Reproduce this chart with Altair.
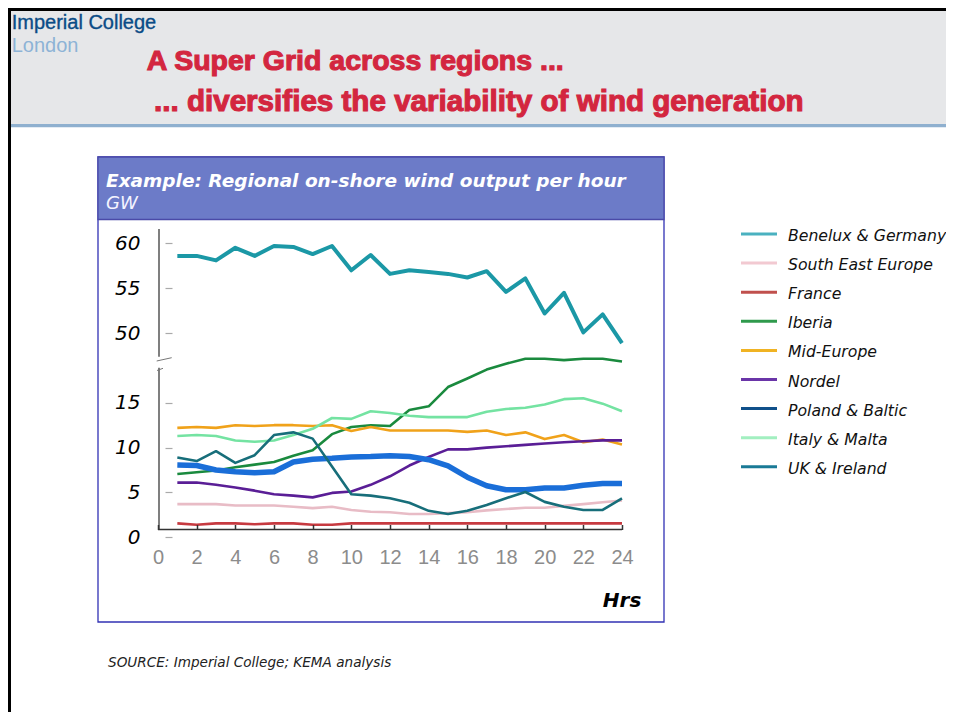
import altair as alt
import pandas as pd

# ---------------- data ----------------
HOURS = list(range(1, 25))
SERIES = ["Benelux & Germany", "South East Europe", "France", "Iberia", "Mid-Europe",
          "Nordel", "Poland & Baltic", "Italy & Malta", "UK & Ireland"]

benelux = [58.6, 58.6, 58.1, 59.5, 58.6, 59.7, 59.6, 58.8, 59.7, 57.0, 58.7, 56.6,
           57.0, 56.8, 56.6, 56.2, 56.9, 54.6, 56.1, 52.2, 54.5, 50.1, 52.1, 48.9]
south_east = [3.7, 3.7, 3.7, 3.55, 3.55, 3.55, 3.4, 3.25, 3.4, 3.05, 2.85, 2.8,
              2.6, 2.6, 2.7, 2.8, 3.0, 3.15, 3.3, 3.3, 3.5, 3.7, 3.9, 4.1]
france = [1.55, 1.4, 1.55, 1.55, 1.45, 1.55, 1.55, 1.4, 1.4, 1.55, 1.55, 1.55,
          1.55, 1.55, 1.55, 1.55, 1.55, 1.55, 1.55, 1.55, 1.55, 1.55, 1.55, 1.55]
iberia = [7.05, 7.25, 7.45, 7.8, 8.1, 8.4, 9.1, 9.7, 11.5, 12.3, 12.5, 12.4,
          14.2, 14.6, 16.75, 17.7, 18.7, 19.35, 19.9, 19.9, 19.75, 19.9, 19.9, 19.6]
mid_europe = [12.2, 12.3, 12.2, 12.5, 12.4, 12.5, 12.5, 12.4, 12.5, 11.85, 12.3, 11.9,
              11.9, 11.9, 11.9, 11.75, 11.9, 11.4, 11.7, 10.95, 11.4, 10.6, 10.9, 10.35]
nordel = [6.1, 6.1, 5.85, 5.55, 5.2, 4.8, 4.65, 4.45, 4.95, 5.1, 5.85, 6.8,
          8.0, 8.95, 9.8, 9.8, 10.0, 10.15, 10.3, 10.45, 10.6, 10.7, 10.8, 10.8]
poland = [8.05, 8.0, 7.5, 7.3, 7.2, 7.3, 8.4, 8.7, 8.8, 8.95, 9.0, 9.1,
          9.0, 8.65, 7.95, 6.7, 5.75, 5.3, 5.3, 5.5, 5.5, 5.8, 6.0, 6.0]
italy = [11.3, 11.4, 11.3, 10.8, 10.65, 10.8, 11.4, 12.1, 13.3, 13.2, 14.05, 13.85,
         13.55, 13.4, 13.4, 13.4, 14.0, 14.3, 14.45, 14.8, 15.4, 15.5, 14.9, 14.05]
uk = [8.9, 8.5, 9.6, 8.3, 9.15, 11.4, 11.7, 11.0, 7.9, 4.8, 4.65, 4.35,
      3.85, 2.95, 2.6, 2.95, 3.6, 4.35, 5.05, 3.95, 3.4, 3.05, 3.05, 4.35]

VALUES = {
    "Benelux & Germany": benelux, "South East Europe": south_east, "France": france,
    "Iberia": iberia, "Mid-Europe": mid_europe, "Nordel": nordel,
    "Poland & Baltic": poland, "Italy & Malta": italy, "UK & Ireland": uk,
}

LINE_COLORS = ["#1b98a6", "#e8bcc6", "#c63a40", "#1a8a3e", "#f0a21a",
               "#5a1e96", "#1a6ed8", "#74e3a2", "#176e7a"]
LEGEND_COLORS = ["#4ab1c0", "#f2c9d1", "#c0504d", "#2f9a4c", "#f0b323",
                 "#6a35a8", "#10508a", "#a2efc0", "#1a7a96"]
THIN_GROUP = ["South East Europe", "France", "Mid-Europe", "Italy & Malta", "Iberia", "Nordel"]

Y_TICKS = [0, 5, 10, 15, 50, 55, 60]
X_TICKS = list(range(0, 25, 2))

rows = []
for name in SERIES:
    for h, v in zip(HOURS, VALUES[name]):
        rows.append({"hour": h, "gw": v, "series": name})
df = pd.DataFrame(rows)

legend_df = pd.DataFrame({"series": SERIES})
axis_seg_df = pd.DataFrame({"y": [61.6, 18.9], "y2": [47.4, 0.87]})
one = pd.DataFrame({"a": [0]})

W, H = 938, 704

# broken (piecewise) y scale : lower 0-20, upper 47-62
x_scale = alt.Scale(domain=[0, 24], range=[150, 614], nice=False, zero=False)
y_scale = alt.Scale(domain=[0, 20.05, 47.4, 61.6], range=[529.3, 349.45, 348.7, 220.9],
                    nice=False, zero=False)
color_scale = alt.Scale(domain=SERIES, range=LINE_COLORS)


def rect(x, x2, y, y2, **kw):
    return alt.Chart(one).mark_rect(**kw).encode(
        x=alt.value(x), x2=alt.value(x2), y=alt.value(y), y2=alt.value(y2))


def rule(x, x2, y, y2, **kw):
    return alt.Chart(one).mark_rule(**kw).encode(
        x=alt.value(x), x2=alt.value(x2), y=alt.value(y), y2=alt.value(y2))


def text(t, x, y, **kw):
    return alt.Chart(one).mark_text(text=t, align="left", baseline="alphabetic", **kw).encode(
        x=alt.value(x), y=alt.value(y))


# ---------------- slide decoration ----------------
band = rect(0, W, 3, 116, color="#e6e7e9")
band_line = rect(0, W, 116, 119.3, color="#8fb0cf")
border_left = rect(0, 3, 0, H, color="#000000")
border_top = rect(0, W, 0, 3, color="#000000")

logo1 = text("Imperial College", 3.7, 21.3, font="Liberation Sans", fontSize=20,
             color="#0a4c86", stroke="#0a4c86", strokeWidth=0.35)
logo2 = text("London", 3.7, 43.7, font="Liberation Sans", fontSize=20, color="#8db3d6")

TITLE_FONT = "Liberation Sans"
title1 = text("A Super Grid across regions ...", 138.7, 62, font=TITLE_FONT,
              fontSize=28.5, fontWeight="bold", color="#d3263f",
              stroke="#d3263f", strokeWidth=1.1)
title2 = text("... diversifies the variability of wind generation", 146, 102.5,
              font=TITLE_FONT, fontSize=29.6, fontWeight="bold", color="#d3263f",
              stroke="#d3263f", strokeWidth=1.1)

box = rect(90, 656, 149, 614, fill="#ffffff", stroke="#3232b4", strokeWidth=1.3)
box_head = rect(90, 656, 149, 211.5, fill="#6c7bc8", stroke="#4a4aa8", strokeWidth=1.3)
head1 = text("Example: Regional on-shore wind output per hour", 98, 178.5,
             font="DejaVu Sans", fontSize=18.5, fontWeight="bold", fontStyle="italic",
             color="#ffffff")
head2 = text("GW", 98, 201, font="DejaVu Sans", fontSize=18, fontStyle="italic",
             color="#f4f4ff")

hrs = text("Hrs", 594.8, 599, font="DejaVu Sans", fontSize=20, fontWeight="bold",
           fontStyle="italic", color="#000000")
source = text("SOURCE: Imperial College; KEMA analysis", 100, 659, font="DejaVu Sans",
              fontSize=13.6, fontStyle="italic", color="#222222")

# ---------------- axes ----------------
y_axis_line = alt.Chart(axis_seg_df).mark_rule(color="#555555", strokeWidth=1.5).encode(
    x=alt.value(151),
    y=alt.Y("y:Q", scale=y_scale, axis=None),
    y2="y2:Q",
)
x_axis_line = rule(150, 614, 521.5, 521.5, color="#333333", strokeWidth=1.6)
break1 = rule(148.7, 163.7, 353, 349.7, color="#777777", strokeWidth=1)
break2 = rule(149, 155, 362.5, 360.3, color="#777777", strokeWidth=1)

x_axis = alt.Axis(values=X_TICKS, offset=-187.5, domain=False, tickSize=5,
                  tickColor="#333333", tickWidth=1.5, labelFont="Liberation Sans",
                  labelFontSize=20, labelColor="#8c8c8c", labelPadding=18,
                  grid=False, title=None, labelFlush=False, labelOverlap=False, zindex=1)
y_axis = alt.Axis(values=Y_TICKS, offset=-164, domain=False, tickSize=7,
                  tickColor="#aaaaaa", tickWidth=1.2, labelFont="DejaVu Sans",
                  labelFontStyle="italic", labelFontSize=20, labelColor="#000000",
                  labelPadding=25, grid=False, title=None, labelOverlap=False,
                  labelFlush=False, zindex=1)


def line_layer(names, width, with_axes=False):
    base = alt.Chart(df).transform_filter(
        alt.FieldOneOfPredicate(field="series", oneOf=names)
    ).mark_line(strokeWidth=width, strokeJoin="round")
    if with_axes:
        x = alt.X("hour:Q", scale=x_scale, axis=x_axis)
        y = alt.Y("gw:Q", scale=y_scale, axis=y_axis)
    else:
        x = alt.X("hour:Q", scale=x_scale)
        y = alt.Y("gw:Q", scale=y_scale, axis=None)
    return base.encode(
        x=x, y=y,
        color=alt.Color("series:N", scale=color_scale, legend=None),
        detail="series:N",
    )


lines_thin = line_layer(THIN_GROUP, 2.6, with_axes=True)
lines_poland = line_layer(["Poland & Baltic"], 5.5)
lines_uk = line_layer(["UK & Ireland"], 2.6)
lines_benelux = line_layer(["Benelux & Germany"], 4)

# ---------------- legend ----------------
leg_y = alt.Y("series:N", sort=SERIES,
              scale=alt.Scale(type="point", domain=SERIES, range=[226, 458.8], padding=0),
              axis=None)
legend_rules = alt.Chart(legend_df).mark_rule(strokeWidth=3).encode(
    x=alt.value(733), x2=alt.value(769), y=leg_y,
    color=alt.Color("series:N", scale=alt.Scale(domain=SERIES, range=LEGEND_COLORS),
                    legend=None),
)
legend_text = alt.Chart(legend_df).mark_text(
    align="left", baseline="middle", dy=2, font="DejaVu Sans", fontSize=15.7,
    fontStyle="italic", color="#111111").encode(
    x=alt.value(780), y=leg_y, text="series:N")

chart = alt.layer(
    band, band_line, border_left, border_top, logo1, logo2, title1, title2,
    box, box_head, head1, head2,
    y_axis_line, x_axis_line, break1, break2,
    lines_thin, lines_poland, lines_uk, lines_benelux,
    hrs, legend_rules, legend_text, source,
).resolve_scale(
    y="independent", color="independent"
).properties(
    width=W, height=H, autosize=alt.AutoSizeParams(type="none"), padding=0,
    background="#ffffff",
).configure_view(strokeWidth=0)

chart.save("out.html", embed_options={"renderer": "svg", "actions": False})
